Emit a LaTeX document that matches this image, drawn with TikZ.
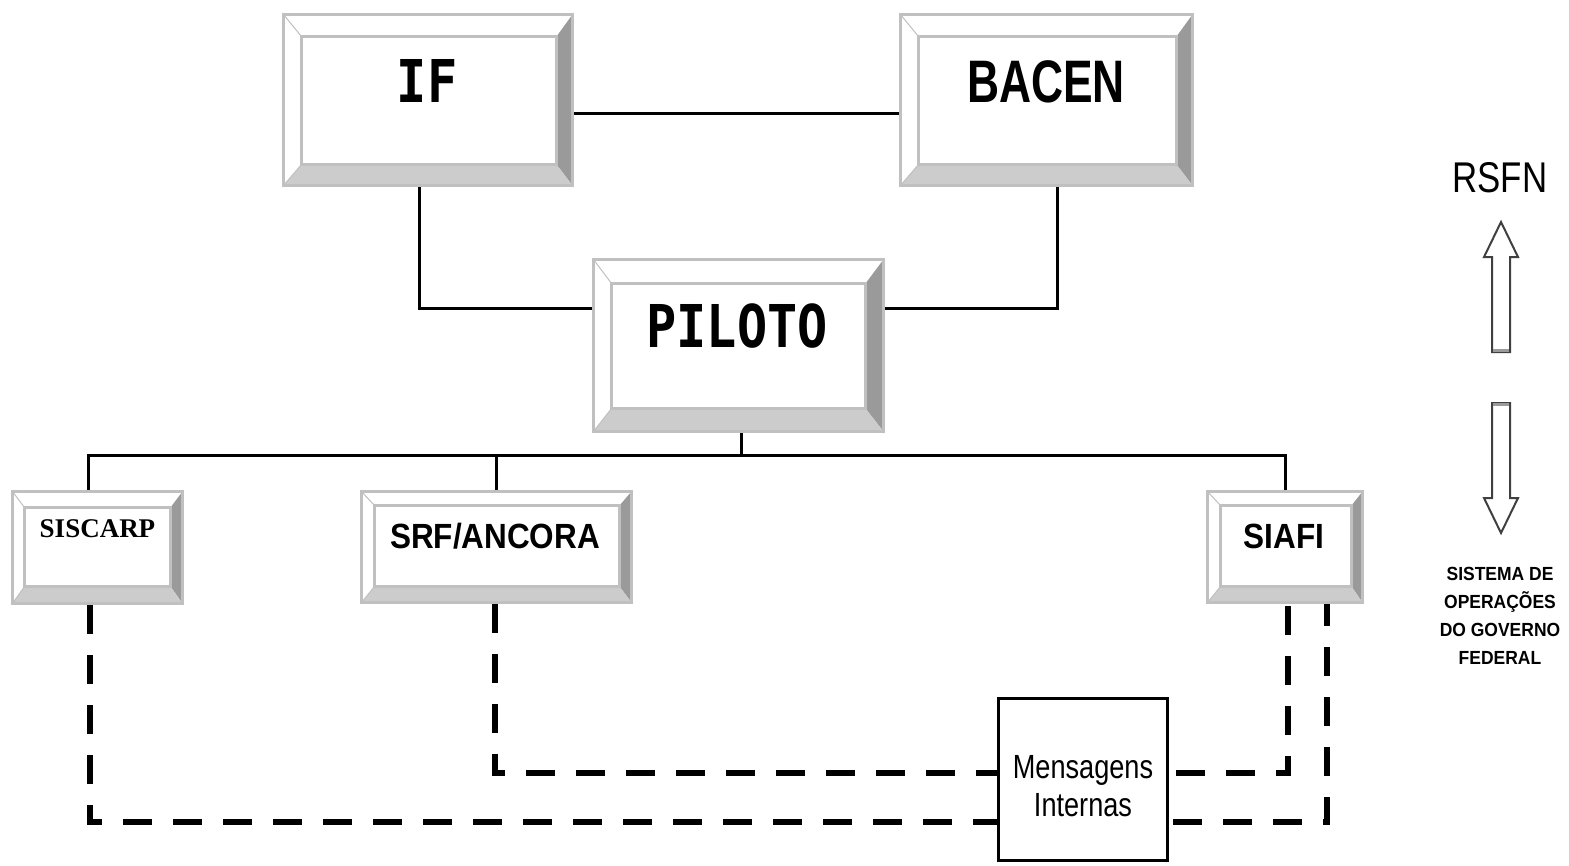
\documentclass[tikz,border=0pt]{standalone}
\usepackage{fontspec}
\setmainfont{Liberation Sans}
\newfontfamily\monobig[FakeStretch=0.85]{DejaVu Sans Mono}
\newfontfamily\bacenfont[FakeStretch=0.74]{Liberation Sans}
\newfontfamily\boxfont[FakeStretch=0.9]{Liberation Sans}
\newfontfamily\serbox{Liberation Serif}
\newfontfamily\thinfont[FakeStretch=0.81]{Liberation Sans}
\newfontfamily\legendfont[FakeStretch=0.92]{Liberation Sans}
\definecolor{bevgray}{HTML}{C0C0C0}
\definecolor{bevdark}{HTML}{9A9A9A}
\definecolor{bevlight}{HTML}{CCCCCC}
\definecolor{arrowgray}{HTML}{404040}
\tikzset{
  bevelbox/.style n args={4}{rectangle, draw=bevgray, line width=3pt, fill=white, inner sep=0pt,
    path picture={
      \coordinate (pnw) at (path picture bounding box.north west);
      \coordinate (pse) at (path picture bounding box.south east);
      \coordinate (inw) at ([xshift=#1pt,yshift=-#2pt]pnw);
      \coordinate (ise) at ([xshift=-#3pt,yshift=#4pt]pse);
      \fill[bevdark] (pnw -| pse) -- (pse) -- (ise) -- (ise |- inw) -- cycle;
      \fill[bevlight] (pse) -- (pnw |- pse) -- (inw |- ise) -- (ise) -- cycle;
      \draw[bevgray, line width=3pt, fill=white] (inw) rectangle (ise);
      \draw[bevgray, line width=1pt] (pnw) -- (inw) (pnw |- pse) -- (inw |- ise);
    }},
  bigtxt/.style={anchor=base, inner sep=0pt},
  solidline/.style={draw=black, line width=3pt},
  dashline/.style={draw=black, line width=6pt, dash pattern=on 29pt off 21pt},
  msgbox/.style={rectangle, draw=black, line width=3pt, fill=white, inner sep=0pt},
  msgtxt/.style={inner sep=0pt, align=center, font=\thinfont\fontsize{33.5}{38}\selectfont},
  hollowarrow/.style={draw=arrowgray, line width=2pt, fill=white, line join=miter},
}
\begin{document}
\begin{tikzpicture}[x=1pt,y=-1pt]
\useasboundingbox[fill=white] (0,0) rectangle (1569,865);

% boxes
\node[bevelbox={18}{22}{16}{21}, minimum width=289pt, minimum height=171pt] (IF) at (428,100) {};
\node[bevelbox={18}{22}{16}{21}, minimum width=292pt, minimum height=171pt] (BACEN) at (1046.5,100) {};
\node[bevelbox={18}{24}{18}{23}, minimum width=290pt, minimum height=172pt] (PILOTO) at (738.5,345.5) {};
\node[bevelbox={12}{16}{12}{17}, minimum width=170pt, minimum height=112pt] (SISCARP) at (97.5,547.5) {};
\node[bevelbox={13}{14}{12}{16}, minimum width=270pt, minimum height=111pt] (SRF) at (496.5,547) {};
\node[bevelbox={13}{14}{11}{16}, minimum width=155pt, minimum height=111pt] (SIAFI) at (1285,547) {};

% box labels
\node[bigtxt, font=\monobig\bfseries\fontsize{59}{59}\selectfont] (IFtxt) at (427,102) {IF};
\node[bigtxt, font=\bacenfont\bfseries\fontsize{60}{60}\selectfont] (BACENtxt) at (1046,102) {BACEN};
\node[bigtxt, font=\monobig\bfseries\fontsize{59}{59}\selectfont] (PILOTOtxt) at (737,347) {PILOTO};
\node[bigtxt, font=\serbox\bfseries\fontsize{27}{27}\selectfont] (SISCARPtxt) at (97.5,537) {SISCARP};
\node[bigtxt, font=\boxfont\bfseries\fontsize{35}{35}\selectfont] (SRFtxt) at (495,548) {SRF/ANCORA};
\node[bigtxt, font=\boxfont\bfseries\fontsize{35}{35}\selectfont] (SIAFItxt) at (1284,548) {SIAFI};

% solid connectors
\coordinate (bus) at (741,455);
\draw[solidline] ([yshift=-13pt]IF.east) -- ([yshift=-13pt]BACEN.west);
\draw[solidline] ([xshift=-9pt]IF.south) |- ([yshift=37.5pt]PILOTO.west);
\draw[solidline] ([yshift=37.5pt]PILOTO.east) -| ([xshift=10.5pt]BACEN.south);
\draw[solidline] ([xshift=2.5pt]PILOTO.south) -- (bus);
\draw[solidline] ([xshift=-9.5pt]SISCARP.north) |- (bus) -| (SIAFI.north);
\draw[solidline] ([xshift=-0.5pt]SRF.north) -- ([xshift=-0.5pt]SRF.north |- bus);

% dashed connectors
\coordinate (lowrail) at (0,822);
\coordinate (midrail) at (0,773);
\coordinate (sisB) at ([xshift=-7.5pt]SISCARP.south);
\coordinate (srfB) at ([xshift=-1.5pt]SRF.south);
\coordinate (siaR) at ([xshift=42pt]SIAFI.south);
\coordinate (siaL) at ([xshift=3pt]SIAFI.south);
\draw[dashline] (sisB) -- (sisB |- lowrail) -- (siaR |- lowrail) -- (siaR);
\draw[dashline] (srfB) -- (srfB |- midrail) -- (siaL |- midrail) -- (siaL);

% internal messages box
\node[msgbox, minimum width=169pt, minimum height=162pt] (MSG) at (1083,779.5) {};
\node[msgtxt] (MSGtxt) at (1083,786) {Mensagens\\Internas};

% right side legend
\node[inner sep=0pt, font=\thinfont\fontsize{43}{43}\selectfont] (RSFN) at (1500,177.5) {RSFN};
\draw[hollowarrow] (1501,222) -- (1518,257) -- (1510,257) -- (1510,352) -- (1492,352) -- (1492,257) -- (1484,257) -- cycle;
\draw[bevdark, line width=3pt] (1493,350.5) -- (1509,350.5);
\draw[hollowarrow] (1492,403) -- (1510,403) -- (1510,498) -- (1518,498) -- (1501,533) -- (1484,498) -- (1492,498) -- cycle;
\draw[bevdark, line width=3pt] (1493,404.5) -- (1509,404.5);
\node[inner sep=0pt, align=center, font=\legendfont\bfseries\fontsize{19}{28}\selectfont] (SOGF) at (1500,616) {SISTEMA DE\\OPERAÇÕES\\DO GOVERNO\\FEDERAL};
\end{tikzpicture}
\end{document}
